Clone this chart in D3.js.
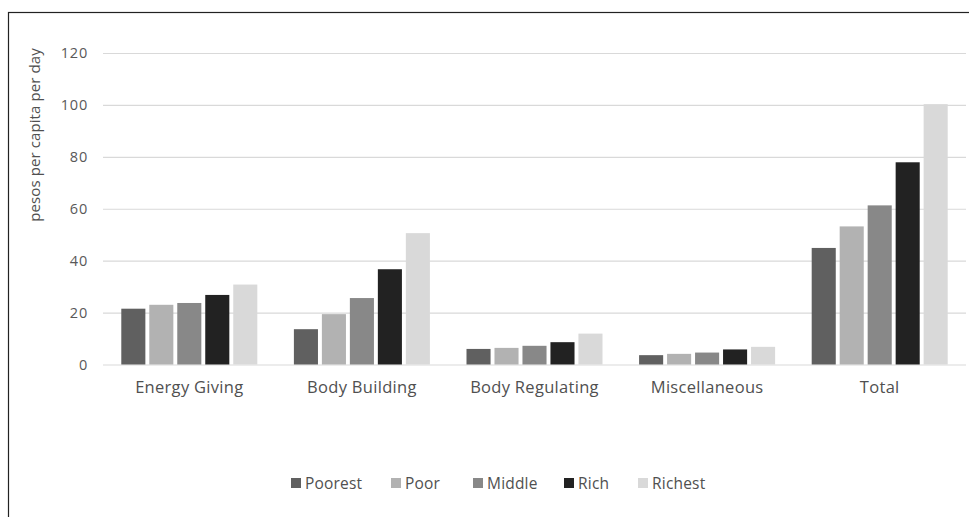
<!DOCTYPE html>
<html>
<head>
<meta charset="utf-8">
<script src="https://cdn.jsdelivr.net/npm/d3@7/dist/d3.min.js"></script>
<style>
  html, body { margin: 0; padding: 0; background: #fff; }
  svg { display: block; }
  text { font-family: "Open Sans", "Noto Sans", sans-serif; }
</style>
</head>
<body>
<svg id="chart" width="969" height="517"></svg>
<script>
// Food expenditure by food group and income class
const categories = ["Energy Giving", "Body Building", "Body Regulating", "Miscellaneous", "Total"];
const seriesNames = ["Poorest", "Poor", "Middle", "Rich", "Richest"];
const poorest = [21.5, 13.6, 6.0, 3.6, 44.9];
const poor    = [23.0, 19.4, 6.4, 4.1, 53.2];
const middle  = [23.7, 25.6, 7.2, 4.6, 61.3];
const rich    = [26.8, 36.7, 8.6, 5.8, 77.9];
const richest = [30.8, 50.6, 11.9, 6.8, 100.3];
const yTicks = [0, 20, 40, 60, 80, 100, 120];
const colors = ["#606060", "#b2b2b2", "#888888", "#222222", "#d9d9d9"];

const seriesValues = [poorest, poor, middle, rich, richest];

const svg = d3.select("#chart");
const plot = { left: 103, right: 966, top: 53, bottom: 364.5 };

// outer frame (top and left edges show within the view)
svg.append("rect")
  .attr("x", 8.5).attr("y", 12.5)
  .attr("width", 1000).attr("height", 600)
  .attr("fill", "none")
  .attr("stroke", "#222")
  .attr("stroke-width", 1.2);

const y = d3.scaleLinear().domain([0, 120]).range([plot.bottom, plot.top]);
const x0 = d3.scaleBand().domain(categories).range([plot.left, plot.right])
  .paddingInner(0.212).paddingOuter(0.106);
const x1 = d3.scaleBand().domain(seriesNames).range([0, x0.bandwidth()])
  .paddingInner(0.14);

// gridlines and y tick labels
const yAxis = d3.axisLeft(y).tickValues(yTicks)
  .tickSize(-(plot.right - plot.left)).tickPadding(15);
const gy = svg.append("g").attr("transform", `translate(${plot.left},0)`).call(yAxis);
gy.select(".domain").remove();
gy.selectAll(".tick line").attr("stroke", "#d9d9d9").attr("stroke-width", 1.2);
gy.selectAll(".tick text")
  .attr("fill", "#595959")
  .attr("font-size", 14.5)
  .attr("letter-spacing", 0.8);

// bars
const groups = svg.append("g").selectAll("g")
  .data(categories)
  .join("g")
  .attr("transform", d => `translate(${x0(d)},0)`);

groups.selectAll("rect")
  .data((c, i) => seriesNames.map((s, j) => ({ s, j, v: seriesValues[j][i] })))
  .join("rect")
  .attr("x", d => x1(d.s))
  .attr("width", x1.bandwidth())
  .attr("y", d => y(d.v))
  .attr("height", d => y(0) - y(d.v))
  .attr("fill", d => colors[d.j]);

// category axis
const xAxis = d3.axisBottom(x0).tickSize(0).tickPadding(17);
const gx = svg.append("g").attr("transform", `translate(0,${plot.bottom})`).call(xAxis);
gx.select(".domain").remove();
gx.selectAll(".tick text")
  .attr("fill", "#505050")
  .attr("font-size", 16.5)
  .attr("letter-spacing", 0.3);

// y axis title
svg.append("text")
  .attr("transform", "translate(40,135) rotate(-90)")
  .attr("text-anchor", "middle")
  .attr("fill", "#505050")
  .attr("font-size", 15)
  .attr("letter-spacing", 0.1)
  .text("pesos per capita per day");

// legend
const legendX = [291, 391, 473, 564, 638];
const legend = svg.append("g").selectAll("g")
  .data(seriesNames)
  .join("g")
  .attr("transform", (d, i) => `translate(${legendX[i]},483)`);
legend.append("rect")
  .attr("x", 0).attr("y", -5)
  .attr("width", 10).attr("height", 10)
  .attr("fill", (d, i) => colors[i]);
legend.append("text")
  .attr("x", 14).attr("y", 5.5)
  .attr("fill", "#505050")
  .attr("font-size", 15.5)
  .attr("letter-spacing", 0.2)
  .text(d => d);
</script>
</body>
</html>
